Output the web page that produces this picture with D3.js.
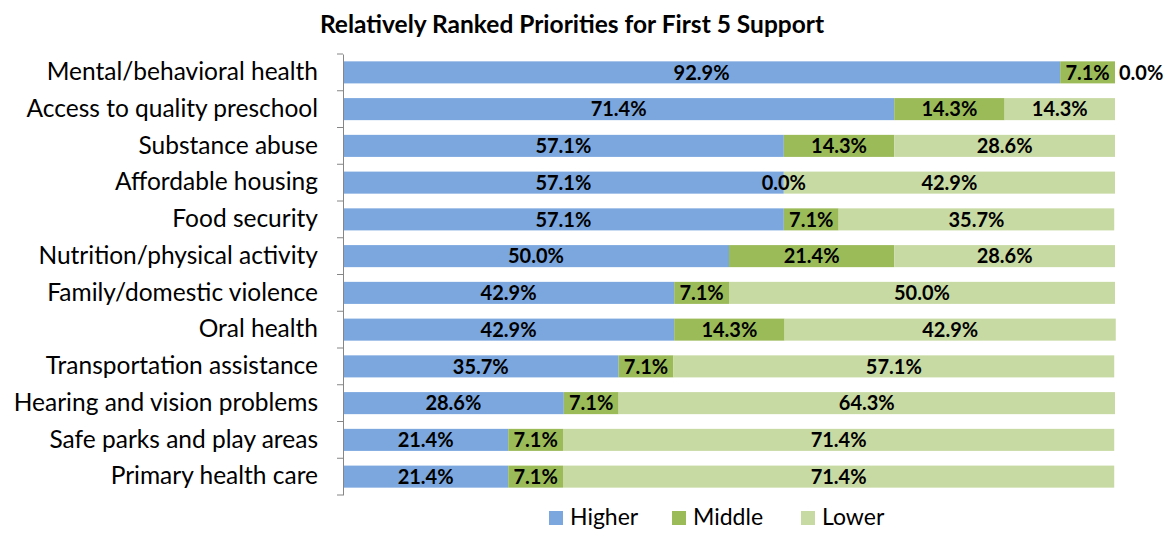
<!DOCTYPE html>
<html>
<head>
<meta charset="utf-8">
<script src="https://cdn.jsdelivr.net/npm/d3@7"></script>
<style>
  body { margin: 0; background: #fff; }
  svg { display: block; font-family: Lato, 'Liberation Sans', sans-serif; }
</style>
</head>
<body>
<svg id="chart" width="1176" height="533"></svg>
<script>
const categories = [
  'Mental/behavioral health',
  'Access to quality preschool',
  'Substance abuse',
  'Affordable housing',
  'Food security',
  'Nutrition/physical activity',
  'Family/domestic violence',
  'Oral health',
  'Transportation assistance',
  'Hearing and vision problems',
  'Safe parks and play areas',
  'Primary health care'
];
const higher = [92.9, 71.4, 57.1, 57.1, 57.1, 50.0, 42.9, 42.9, 35.7, 28.6, 21.4, 21.4];
const middle = [7.1, 14.3, 14.3, 0.0, 7.1, 21.4, 7.1, 14.3, 7.1, 7.1, 7.1, 7.1];
const lower  = [0.0, 14.3, 28.6, 42.9, 35.7, 28.6, 50.0, 42.9, 57.1, 64.3, 71.4, 71.4];
const seriesNames = ['Higher', 'Middle', 'Lower'];
const colors = ['#7BA7DE', '#9BBB59', '#C8DAA3'];

const svg = d3.select('#chart');
const margin = { top: 54, right: 61, bottom: 38, left: 343 };
const width = 1176, height = 533;

const rows = categories.map((c, i) => ({ cat: c, Higher: higher[i], Middle: middle[i], Lower: lower[i] }));
const stacked = d3.stack().keys(seriesNames)(rows);

const x = d3.scaleLinear([0, 100], [margin.left, width - margin.right]);
const y = d3.scaleBand(categories, [margin.top, height - margin.bottom]).paddingInner(0.4).paddingOuter(0.2);
const color = d3.scaleOrdinal(seriesNames, colors);

// title
svg.append('text')
  .attr('x', 572).attr('y', 33)
  .attr('text-anchor', 'middle')
  .attr('font-size', 24.5).attr('font-weight', 700)
  .text('Relatively Ranked Priorities for First 5 Support');

// bars
svg.append('g').selectAll('g')
  .data(stacked)
  .join('g')
  .attr('fill', d => color(d.key))
  .selectAll('rect')
  .data(d => d)
  .join('rect')
  .attr('x', d => x(d[0]))
  .attr('y', d => y(d.data.cat))
  .attr('width', d => x(d[1]) - x(d[0]))
  .attr('height', y.bandwidth());

// value labels, drawn after all bars so zero segments stay visible
const atEnd = e => e[1] === e[0] && e[1] >= 100;
svg.append('g').selectAll('g')
  .data(stacked)
  .join('g')
  .selectAll('text')
  .data(d => d.map(e => ({ e, key: d.key })))
  .join('text')
  .attr('fill', '#000')
  .attr('font-size', 20).attr('font-weight', 700)
  .attr('dy', '0.36em')
  .attr('y', d => y(d.e.data.cat) + y.bandwidth() / 2)
  .attr('x', d => atEnd(d.e) ? x(100) + 4 : (x(d.e[0]) + x(d.e[1])) / 2)
  .attr('text-anchor', d => atEnd(d.e) ? 'start' : 'middle')
  .text(d => d.e.data[d.key].toFixed(1) + '%');

// axis
const axis = svg.append('g')
  .attr('transform', `translate(${margin.left},0)`)
  .call(d3.axisLeft(y).tickSize(0).tickPadding(25))
  .call(g => g.select('.domain').attr('stroke', '#868686'))
  .call(g => g.selectAll('.tick text').attr('font-size', 24.5).attr('fill', '#000').attr('font-family', 'Lato, sans-serif'));

// category boundary tick marks
const step = (height - margin.bottom - margin.top) / categories.length;
axis.selectAll('.bound')
  .data(d3.range(categories.length + 1))
  .join('line')
  .attr('x1', -6).attr('x2', 0)
  .attr('y1', i => margin.top + i * step).attr('y2', i => margin.top + i * step)
  .attr('stroke', '#868686');

// legend
const legend = svg.append('g').attr('transform', 'translate(549,517)');
const lx = [0, 123, 252];
const item = legend.selectAll('g')
  .data(seriesNames)
  .join('g')
  .attr('transform', (d, i) => `translate(${lx[i]},0)`);
item.append('rect')
  .attr('x', 0).attr('y', -6)
  .attr('width', 14).attr('height', 14)
  .attr('fill', d => color(d));
item.append('text')
  .attr('x', 21).attr('dy', '0.36em')
  .attr('font-size', 23)
  .text(d => d);
</script>
</body>
</html>
